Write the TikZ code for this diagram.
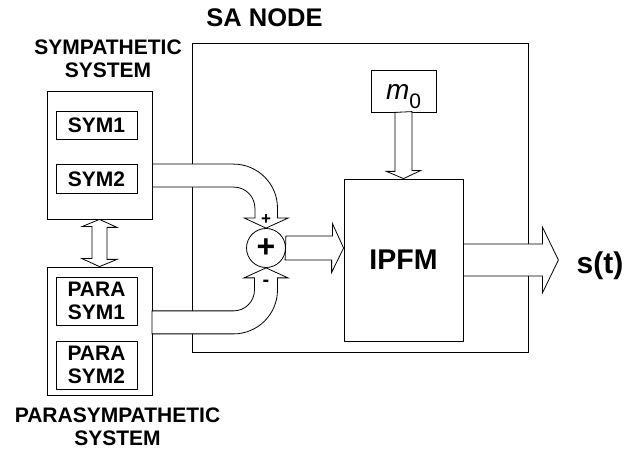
\documentclass[tikz,border=0pt]{standalone}
\usepackage{fontspec}
\setmainfont{Liberation Sans}
\usetikzlibrary{positioning,calc}
\tikzset{
  blk/.style={rectangle, draw=black, line width=0.8pt, fill=white, inner sep=0pt},
  sub/.style={blk, minimum width=81pt, align=center, font=\fontsize{21}{23.5}\selectfont\bfseries},
  fat/.style={draw=black, line width=0.8pt, fill=white, line join=miter},
  lbl/.style={align=center, inner sep=0pt, font=\fontsize{21}{23.5}\selectfont\bfseries},
  sumc/.style={circle, draw=black, line width=0.8pt, fill=white, minimum size=39pt, inner sep=0pt},
}

\begin{document}
\begin{tikzpicture}[x=1pt, y=-1pt]
  \useasboundingbox (0,0) rectangle (635,454);
  \node[blk, minimum width=336pt, minimum height=309pt] (sa) at (360,197.5) {};
  \node[lbl, font=\fontsize{25.5}{28}\selectfont\bfseries] (satitle) at (264.5,18) {SA NODE};

  \node[blk, minimum width=105pt, minimum height=128pt] (sym) at (99.5,155) {};
  \node[sub, minimum height=28pt] (sym1) at (96.5,125) {SYM1};
  \node[sub, minimum height=29pt] (sym2) at (96.5,179) {SYM2};
  \node[lbl] (symtitle) at (108,59) {SYMPATHETIC\\SYSTEM};

  \node[blk, minimum width=105pt, minimum height=128pt] (para) at (99.5,331) {};
  \node[sub, minimum height=48pt] (psym1) at (96.5,301) {PARA\\SYM1};
  \node[sub, minimum height=48pt] (psym2) at (96.5,365) {PARA\\SYM2};
  \node[lbl] (paratitle) at (117.5,427) {PARASYMPATHETIC\\SYSTEM};

  \node[sumc, font=\fontsize{32}{32}\selectfont\bfseries] (sum) at (266,248) {+};
  \node[blk, minimum width=119pt, minimum height=162pt, font=\fontsize{28.5}{28}\selectfont\bfseries] (ipfm) at (403.5,260) {IPFM};
  \node[blk, minimum width=65pt, minimum height=42pt, text height=18pt, text depth=0pt, font=\fontsize{28}{28}\selectfont] (m0) at (403.5,91) {\textit{m}\raisebox{-9pt}{\fontsize{21}{21}\selectfont 0}};
  \node[lbl, font=\fontsize{30}{30}\selectfont\bfseries] (st) at (600,266) {s(t)};

  \draw[fat] (sym.south) -- ++(17.5,8) -- ++(-10,0) -- ++(0,32) -- ++(10,0) -- (para.north)
    -- ++(-17.5,-8) -- ++(10,0) -- ++(0,-32) -- ++(-10,0) -- cycle;
  \draw[fat] (sum.north) -- ++(22,-10) -- ++(-10.5,0) -- ++(0,-10)
    arc[start angle=0, end angle=-90, radius=44] -- (sym.east |- sym2.north)
    -- ++(0,23) -- ++(81.5,0) arc[start angle=-90, end angle=0, radius=21]
    -- ++(0,10) -- ++(-10.5,0) -- cycle;
  \draw[fat] (sum.south) -- ++(22,10) -- ++(-10.5,0) -- ++(0,12)
    arc[start angle=0, end angle=90, radius=44] -- ++(-81.5,0)
    -- ++(0,-23) -- ++(81.5,0) arc[start angle=90, end angle=0, radius=21]
    -- ++(0,-12) -- ++(-10.5,0) -- cycle;
  \draw[fat] (sum.east) ++(0,-12) -- ++(46.5,0) -- ++(0,-12.5) -- (ipfm.west |- sum.east)
    -- ++(-12,24.5) -- ++(0,-12.5) -- ++(-46.5,0) -- cycle;
  \draw[fat] (m0.south) ++(-8.5,0) -- ++(0,59) -- ++(-8.5,0) -- (ipfm.north)
    -- ++(17,-8) -- ++(-8.5,0) -- ++(0,-59) -- cycle;
  \draw[fat] (ipfm.east) ++(0,-16) -- ++(79,0) -- ++(0,-17) -- ++(16,33)
    -- ++(-16,33) -- ++(0,-17) -- ++(-79,0) -- cycle;

  \node[font=\fontsize{17}{17}\selectfont\bfseries] (pin) at (266,220) {+};
  \node[font=\fontsize{20}{20}\selectfont\bfseries] (min) at (266,283) {-};
\end{tikzpicture}
\end{document}
